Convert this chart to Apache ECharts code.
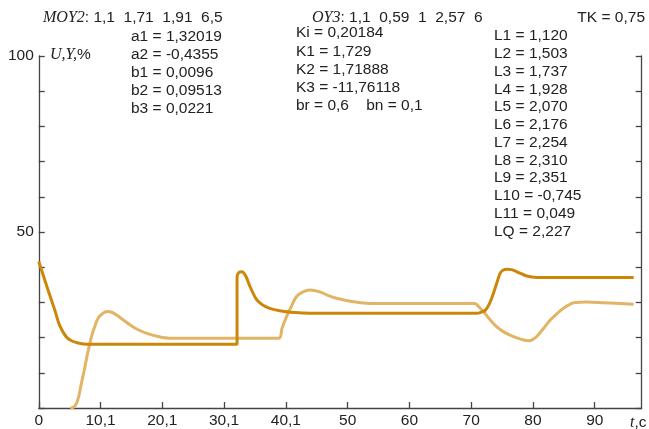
<!DOCTYPE html>
<html><head><meta charset="utf-8">
<script src="https://cdn.jsdelivr.net/npm/echarts@6/dist/echarts.min.js"></script>
<style>html,body{margin:0;padding:0;background:#fff}#c{width:649px;height:429px}</style>
</head><body><div id="c"></div>
<script>
// ---- data ----
const xTickLabels = ['0','10,1','20,1','30,1','40,1','50','60','70','80','90'];
const yTickLabels = ['','','','','','50','','','','','100'];

const darkX = [0, 1.3, 2.6, 3.4, 4.5, 5.3, 6.1, 7.8, 10, 20, 32.1, 32.1, 32.4, 32.9, 33.5, 34.2, 35.3, 36.3, 37.4, 39, 40.7, 43, 45.5, 50, 60, 70.9, 71.6, 72.3, 73, 73.6, 74.2, 74.7, 75.2, 75.8, 76.5, 77.4, 79, 80.6, 85, 96.3];
const darkY = [41.6, 34.6, 27.8, 23.4, 20.1, 19.1, 18.6, 18.1, 18.1, 18.1, 18.1, 37.3, 38.5, 38.7, 37.5, 34.5, 30.7, 29.2, 28.3, 27.6, 27.2, 27.0, 26.9, 26.9, 26.9, 26.9, 27.2, 27.8, 29.8, 32.6, 35.8, 38.3, 39.2, 39.4, 39.3, 38.7, 37.5, 37.1, 37.1, 37.1];

const lightX = [5.1, 5.6, 6.1, 6.5, 6.9, 7.4, 7.8, 8.2, 8.6, 9.1, 9.6, 10.3, 11.1, 11.8, 12.6, 13.7, 14.8, 16, 17.5, 19.3, 21.2, 25, 38.8, 39.4, 40.1, 40.9, 41.7, 42.7, 43.9, 45.5, 46.8, 48.2, 50.9, 53.6, 60, 70.6, 71.3, 72, 73, 74.1, 75.2, 76.3, 77.4, 78.5, 79.3, 80, 80.6, 81.7, 82.8, 83.9, 84.9, 85.8, 86.6, 88.7, 91.4, 96.3];
const lightY = [0, 0.2, 1.3, 3.5, 7, 11, 14.6, 17.8, 20.7, 23.3, 25.5, 26.8, 27.4, 27.2, 26.4, 25, 23.6, 22.3, 21.2, 20.3, 19.8, 19.8, 19.8, 22.8, 25.9, 28.9, 31.6, 32.9, 33.5, 33, 32, 31.2, 30.2, 29.7, 29.7, 29.7, 28.6, 27.4, 25.2, 23.1, 21.7, 20.7, 19.9, 19.3, 19.1, 19.5, 20.3, 22.6, 25, 26.8, 28.3, 29.3, 29.9, 30.1, 29.9, 29.5];

const headerMOY2 = ['1,1', '1,71', '1,91', '6,5'];
const headerOY3 = ['1,1', '0,59', '1', '2,57', '6'];
const aLines = ['a1 = 1,32019', 'a2 = -0,4355', 'b1 = 0,0096', 'b2 = 0,09513', 'b3 = 0,0221'];
const kLines = ['Ki = 0,20184', 'K1 = 1,729', 'K2 = 1,71888', 'K3 = -11,76118', 'br = 0,6    bn = 0,1'];
const lLines = ['L1 = 1,120', 'L2 = 1,503', 'L3 = 1,737', 'L4 = 1,928', 'L5 = 2,070', 'L6 = 2,176', 'L7 = 2,254', 'L8 = 2,310', 'L9 = 2,351', 'L10 = -0,745', 'L11 = 0,049', 'LQ = 2,227'];
const tkText = 'TK = 0,75';

// ---- chart ----
const SANS = '"Liberation Sans", Arial, sans-serif';
const SERIF = '"Liberation Serif", "Times New Roman", serif';
const FS = 15.5;
const TXT = '#222';
const AX = '#444';
const chart = echarts.init(document.getElementById('c'), null, {renderer: 'canvas'});

const graphics = [];
function txt(x, y, text, opts) {
  graphics.push({type: 'text', x: x, y: y, style: Object.assign({text: text, font: FS + 'px ' + SANS, fill: TXT, textVerticalAlign: 'middle'}, opts || {})});
}
function richTxt(x, y, text, rich) {
  graphics.push({type: 'text', x: x, y: y, style: {text: text, rich: rich, fill: TXT, verticalAlign: 'middle', textVerticalAlign: 'middle'}});
}
const richBase = {
  it: {fontFamily: SERIF, fontStyle: 'italic', fontSize: 16, fill: TXT},
  n: {fontFamily: SANS, fontSize: FS, fill: TXT}
};
richTxt(43, 18, '{it|MOY2}{n|: ' + headerMOY2.join('  ') + '}', richBase);
richTxt(312, 18, '{it|OY3}{n|: ' + headerOY3.join('  ') + '}', richBase);
txt(645, 18, tkText, {textAlign: 'right'});
aLines.forEach((t, i) => txt(131, 37 + i * 18, t));
kLines.forEach((t, i) => txt(296, 33 + i * 18.3, t));
lLines.forEach((t, i) => txt(494, 36 + i * 17.75, t));
richTxt(50, 55, '{it|U,Y,}{n|%}', richBase);
richTxt(630, 423, '{it|t}{n|,c}', richBase);

const option = {
  animation: false,
  backgroundColor: '#fff',
  grid: {left: 38.75, right: 7.3, top: 56, bottom: 21},
  xAxis: {
    type: 'value', min: 0, max: 97.6, interval: 10,
    axisLine: {show: true, lineStyle: {color: AX, width: 1.3}},
    axisTick: {show: true, inside: true, length: 6, lineStyle: {color: AX, width: 1.3}},
    splitLine: {show: false},
    axisLabel: {
      color: TXT, fontFamily: SANS, fontSize: FS, margin: 5, showMaxLabel: false,
      formatter: v => { const i = Math.round(v / 10); return (Math.abs(v - i * 10) < 1e-6 && xTickLabels[i] !== undefined) ? xTickLabels[i] : ''; }
    }
  },
  yAxis: [{
    type: 'value', min: 0, max: 100, interval: 10, position: 'left',
    axisLine: {show: true, lineStyle: {color: AX, width: 1.3}},
    axisTick: {show: true, inside: true, length: 6, lineStyle: {color: AX, width: 1.3}},
    splitLine: {show: false},
    axisLabel: {color: TXT, fontFamily: SANS, fontSize: FS, margin: 5, formatter: v => yTickLabels[Math.round(v / 10)] || ''}
  }, {
    type: 'value', min: 0, max: 100, interval: 10, position: 'right',
    axisLine: {show: true, lineStyle: {color: AX, width: 1.3}},
    axisTick: {show: true, inside: true, length: 6, lineStyle: {color: AX, width: 1.3}},
    splitLine: {show: false},
    axisLabel: {show: false}
  }],
  series: [{
    type: 'line', name: 'U', yAxisIndex: 0,
    data: lightX.map((x, i) => [x, lightY[i]]),
    showSymbol: false, smooth: 0.35,
    lineStyle: {color: '#e2b466', width: 3}, z: 2
  }, {
    type: 'line', name: 'Y', yAxisIndex: 0,
    data: darkX.map((x, i) => [x, darkY[i]]),
    showSymbol: false, smooth: 0.35,
    lineStyle: {color: '#cc8608', width: 3}, z: 3
  }],
  graphic: graphics
};
chart.setOption(option);
</script>
</body></html>
